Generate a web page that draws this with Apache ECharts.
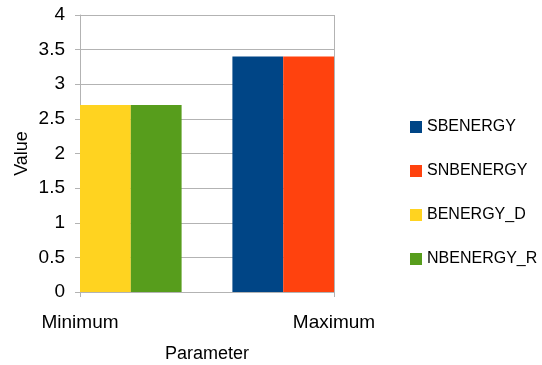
<!DOCTYPE html>
<html>
<head>
<meta charset="utf-8">
<script src="https://cdn.jsdelivr.net/npm/echarts@6/dist/echarts.min.js"></script>
<style>
  html, body { margin: 0; padding: 0; background: #fff; }
  #chart { width: 542px; height: 365px; }
</style>
</head>
<body>
<div id="chart"></div>
<script>
// Category labels and per-series values (one entry per category)
const categories = ['Minimum', 'Maximum'];
const seriesNames = ['SBENERGY', 'SNBENERGY', 'BENERGY_D', 'NBENERGY_R'];
const sbenergy  = [null, 3.4];
const snbenergy = [null, 3.4];
const benergyD  = [2.7, null];
const nbenergyR = [2.7, null];
const yTicks = ['0', '0.5', '1', '1.5', '2', '2.5', '3', '3.5', '4'];

const colors = ['#004586', '#ff420e', '#ffd320', '#579d1c'];
const values = [sbenergy, snbenergy, benergyD, nbenergyR];

// Bars sit side by side in five equal slots across the plot:
// BENERGY_D, NBENERGY_R, (gap), SBENERGY, SNBENERGY
const slotOf = [3, 4, 0, 1];
const slotCount = 5;

const series = seriesNames.map((name, i) => {
  const data = new Array(slotCount).fill('-');
  const vals = values[i];
  const catIdx = vals.findIndex(v => v !== null);
  data[slotOf[i]] = vals[catIdx];
  return {
    name: name,
    type: 'bar',
    xAxisIndex: 0,
    data: data,
    barWidth: '100%',
    barGap: '-100%',
    itemStyle: { color: colors[i] }
  };
});

const chart = echarts.init(document.getElementById('chart'), null, { renderer: 'canvas' });
chart.setOption({
  animation: false,
  textStyle: { fontFamily: 'Liberation Sans, Arial, sans-serif' },
  grid: { left: 80, right: 208, top: 15, bottom: 73, outerBoundsMode: 'none' },
  legend: {
    orient: 'vertical',
    left: 410,
    top: 117,
    padding: 0,
    itemWidth: 12,
    itemHeight: 12,
    itemGap: 24,
    icon: 'rect',
    data: seriesNames,
    textStyle: {
      fontFamily: 'Liberation Sans, Arial, sans-serif',
      fontSize: 16,
      lineHeight: 20,
      color: '#000',
      padding: [0, 0, 0, 0]
    }
  },
  xAxis: [
    {
      type: 'category',
      position: 'top',
      data: new Array(slotCount).fill(''),
      show: false
    },
    {
      type: 'category',
      position: 'bottom',
      boundaryGap: false,
      data: categories,
      name: 'Parameter',
      nameLocation: 'middle',
      nameGap: 53,
      nameTextStyle: { fontSize: 18, color: '#000' },
      axisLine: { lineStyle: { color: '#b3b3b3' } },
      axisTick: { show: true, length: 5, lineStyle: { color: '#b3b3b3' } },
      axisLabel: { fontSize: 19, color: '#000', margin: 21 },
      splitLine: { show: true, lineStyle: { color: '#b3b3b3' } }
    }
  ],
  yAxis: {
    type: 'value',
    min: 0,
    max: 4,
    interval: 0.5,
    name: 'Value',
    nameLocation: 'middle',
    nameGap: 49,
    nameTextStyle: { fontSize: 18, color: '#000' },
    axisLine: { show: true, lineStyle: { color: '#b3b3b3' } },
    axisTick: { show: true, length: 5, lineStyle: { color: '#b3b3b3' } },
    axisLabel: {
      fontSize: 19,
      color: '#000',
      margin: 15,
      formatter: (v) => yTicks[Math.round(v / 0.5)]
    },
    splitLine: { show: true, lineStyle: { color: '#b3b3b3' } }
  },
  series: series
});
</script>
</body>
</html>
